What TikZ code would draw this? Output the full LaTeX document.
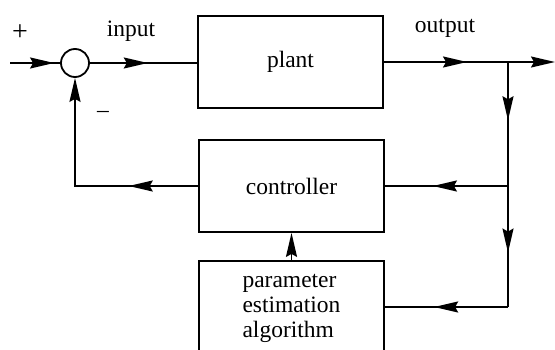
\documentclass[tikz,border=0pt]{standalone}
\usepackage{fontspec}
\setmainfont{Liberation Serif}
\usetikzlibrary{arrows.meta,decorations.markings}
\tikzset{
  myarr/.tip={Stealth[length=24pt,width=11pt,inset=3pt]},
  wire/.style={line width=1.8pt},
  midarr/.style={postaction={decorate},decoration={markings,mark=at position #1 with {\arrow{myarr}}}},
  blockbox/.style={draw,line width=1.8pt,rectangle,minimum width=185pt,minimum height=92pt,inner sep=0pt,font=\fontsize{23.5}{25}\selectfont},
  sumnode/.style={draw,line width=1.8pt,circle,minimum size=28pt,inner sep=0pt},
  lbl/.style={font=\fontsize{23.5}{25}\selectfont,inner sep=0pt}
}
\begin{document}
\begin{tikzpicture}[x=1pt,y=-1pt]
\useasboundingbox (0,0) rectangle (555,350);
\clip (0,0) rectangle (555,350);
\node[sumnode] (sum) at (75,63) {};
\node[blockbox] (plant) at (290.5,62) {plant};
\node[blockbox] (ctrl) at (291.5,186) {controller};
\node[blockbox,minimum height=94pt,align=left] (param) at (291.5,308) {parameter\\estimation\\algorithm};
\coordinate (in) at (10,63);
\coordinate (br) at (508,62);
\coordinate (out) at (555,62);
\coordinate (j1) at (508,186);
\coordinate (j2) at (508,307);
\coordinate (fb) at (75,186);
\node[lbl,font=\fontsize{28}{30}\selectfont] (plus) at (20,33) {+};
\node[lbl] (minus) at (103,114) {\textendash};
\node[lbl] (inlbl) at (131,31) {input};
\node[lbl] (outlbl) at (445,28) {output};
\draw[wire,midarr=0.88] (in) -- (sum.west);
\draw[wire,midarr=0.54] (sum.east) -- (sum.east -| plant.west);
\draw[wire,midarr=0.67] (plant.east) -- (br);
\draw[wire,-{myarr}] (br) -- (out);
\draw[wire,midarr=0.47] (br) -- (j1);
\draw[wire,midarr=0.55] (j1) -- (j2);
\draw[wire,midarr=0.61] (j1) -- (ctrl.east);
\draw[wire,midarr=0.30,-{myarr}] (ctrl.west) -- (fb) -- (sum.south);
\draw[wire,-{myarr}] (param.north) -- (ctrl.south);
\draw[wire,midarr=0.6] (j2) -- (j2 -| param.east);
\end{tikzpicture}
\end{document}
